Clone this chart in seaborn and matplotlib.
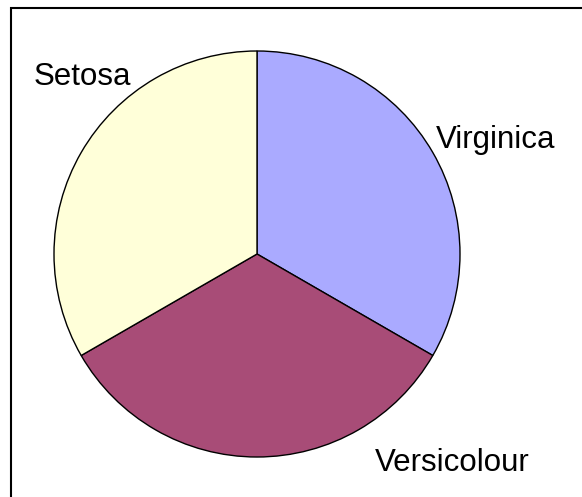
import matplotlib
matplotlib.use("Agg")
import matplotlib.pyplot as plt
import seaborn as sns
import numpy as np
from matplotlib.patches import Rectangle

# data
species = ['Virginica', 'Versicolour', 'Setosa']
counts = [50, 50, 50]
colors = ['#AAAAFF', '#A84C77', '#FFFFD9']

# label placement (polar: angle in degrees, radius relative to pie)
label_angles = [25.5, -47.0, 134.5]
label_radii = [1.30, 1.41, 1.225]

sns.set_theme(style="white")
plt.rcParams['font.family'] = ['Liberation Sans', 'DejaVu Sans']

fig = plt.figure(figsize=(5.82, 4.97), dpi=100)
W, H = 582, 497
ax = fig.add_axes([54 / W, 40 / H, 406 / W, 406 / H])

ax.pie(counts, colors=colors, startangle=90, counterclock=False,
       wedgeprops=dict(edgecolor='black', linewidth=1.0))

for name, ang, r in zip(species, label_angles, label_radii):
    a = np.deg2rad(ang)
    ax.text(r * np.cos(a), r * np.sin(a), name, fontsize=22.5,
            ha='center', va='center', color='black', clip_on=False)

ax.set_xlim(-1, 1)
ax.set_ylim(-1, 1)
ax.set_aspect('equal')
ax.axis('off')

# outer frame
fig.patches.append(Rectangle((11 / W, -0.05), 1.2, 1 - 8 / H + 0.05,
                             transform=fig.transFigure, fill=False,
                             edgecolor='black', linewidth=1.5))

fig.savefig('out.png', dpi=100)
